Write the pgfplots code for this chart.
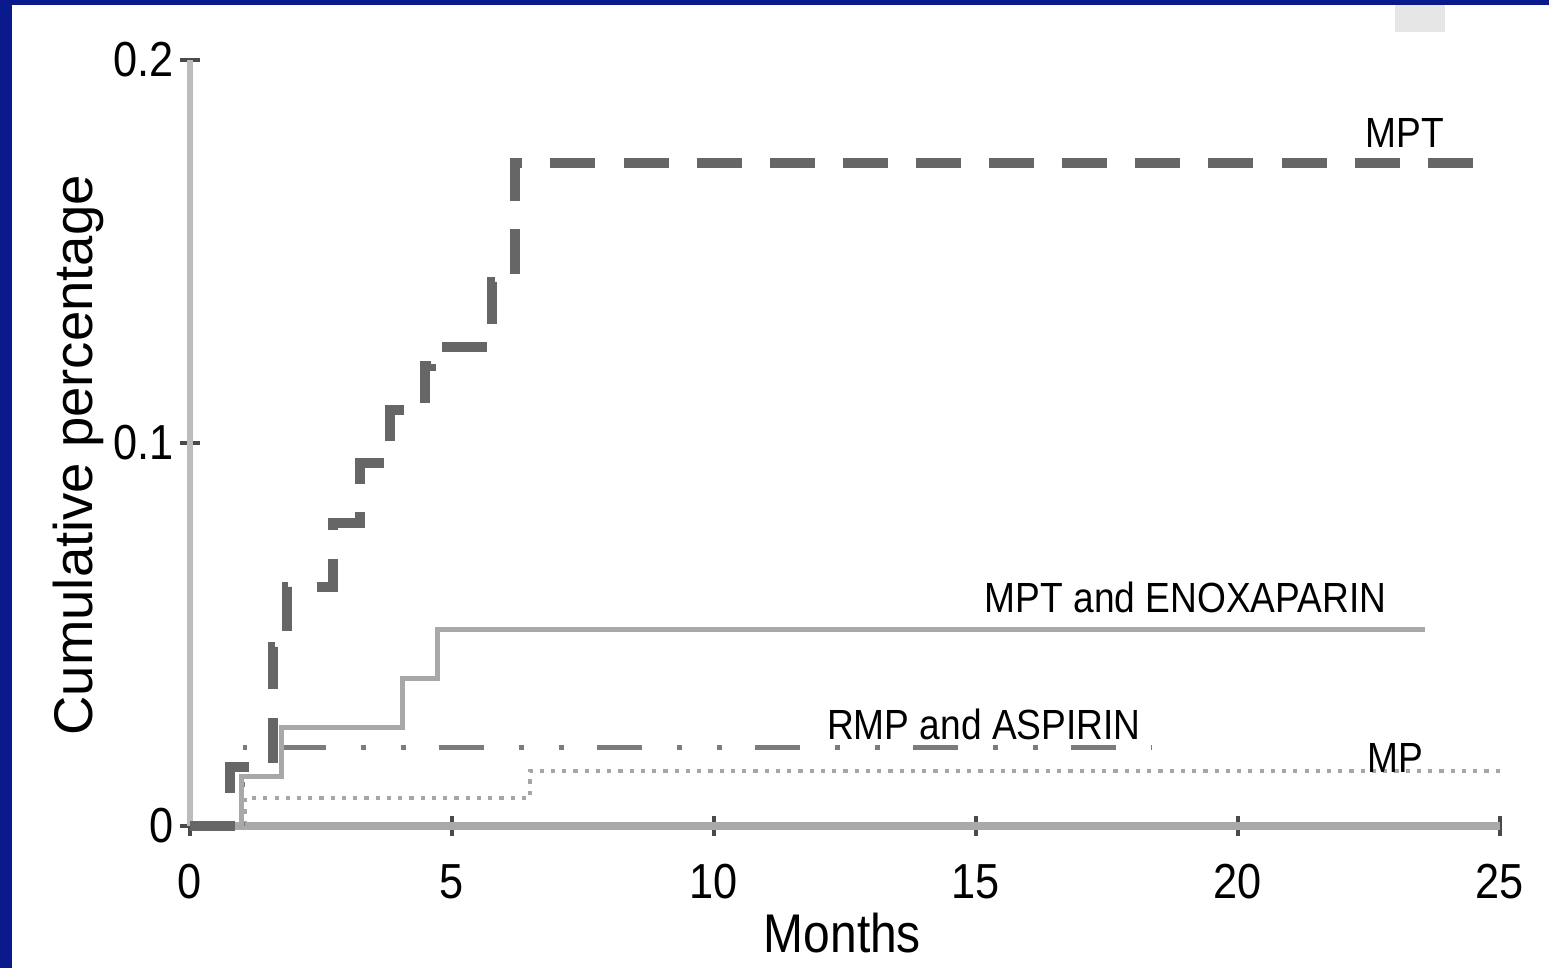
\documentclass[border=0pt]{standalone}
\usepackage{fontspec}
\setmainfont{Liberation Sans}[FakeStretch=0.88]
\newfontfamily\plainfont{Liberation Sans}
\usepackage{pgfplots}
\pgfplotsset{compat=1.18}

\definecolor{frameblue}{HTML}{0A1A8C}
\definecolor{boxgray}{HTML}{E6E6E6}
\definecolor{xaxgray}{HTML}{A9A9A9}
\definecolor{yaxgray}{HTML}{BCBCBC}
\definecolor{tickgray}{HTML}{4A4A4A}
\definecolor{mptgray}{HTML}{666666}
\definecolor{enoxgray}{HTML}{A8A8A8}
\definecolor{rmpgray}{HTML}{7C7C7C}
\definecolor{mpgray}{HTML}{A6A6A6}

\begin{document}
\begin{tikzpicture}
\useasboundingbox (0,0) rectangle (15.49cm,9.68cm);
\fill[white] (0,0) rectangle (15.49cm,9.68cm);
\fill[frameblue] (0,0) rectangle (0.115cm,9.68cm);
\fill[frameblue] (0,9.63cm) rectangle (15.49cm,9.68cm);
\fill[boxgray] (13.95cm,9.36cm) rectangle (14.45cm,9.63cm);
\begin{axis}[
  at={(1.90cm,1.42cm)}, anchor=south west,
  scale only axis, width=13.10cm, height=7.66cm,
  xmin=0, xmax=25, ymin=0, ymax=0.2,
  axis x line*=bottom, axis y line*=left,
  axis line style={-},
  x axis line style={draw=xaxgray, line width=2.4pt},
  y axis line style={draw=yaxgray, line width=1.6pt},
  xtick={0,5,10,15,20,25}, ytick={0,0.1,0.2},
  yticklabels={0,0.1,0.2},
  scaled y ticks=false,
  tick align=center, major tick length=0.2cm,
  tick style={draw=tickgray, line width=0.9pt},
  /pgf/number format/assume math mode=true,
  ticklabel style={font=\fontsize{14}{16}\selectfont, text=black},
  xticklabel style={yshift=-0.16cm},
  yticklabel style={xshift=0.06cm},
  xlabel={Months}, ylabel={Cumulative percentage},
  xlabel style={font=\fontsize{15.5}{17}\selectfont, inner sep=0pt, at={(axis description cs:0.498,-0.14)}, anchor=center},
  ylabel style={font=\plainfont\fontsize{15.5}{17}\selectfont, at={(axis description cs:-0.0855,0.484)}, anchor=center},
  clip=false,
]
% MP
\addplot[const plot, draw=mpgray, line width=1.1pt, line cap=butt, dash pattern=on 1.2pt off 2pt]
  coordinates {(0,0) (1.05,0.0073) (6.49,0.0144) (25,0.0144)};
% RMP and ASPIRIN
\addplot[const plot, draw=rmpgray, line width=1.4pt, line cap=butt,
  dash pattern=on 12.8pt off 10pt on 1.4pt off 10pt on 1.4pt off 9.4pt, dash phase=11.7pt]
  coordinates {(1.0,0) (1.0,0.0206) (18.36,0.0206)};
% MPT and ENOXAPARIN
\addplot[const plot, draw=enoxgray, line width=1.4pt]
  coordinates {(0,0) (0.99,0.0128) (1.74,0.0256) (4.05,0.0386) (4.73,0.0512) (23.57,0.0512)};
% MPT
\addplot[const plot, draw=mptgray, line width=2.85pt, line cap=butt, dash pattern=on 12.8pt off 8pt]
  coordinates {(0,0) (0.76,0.0154) (1.58,0.0467) (1.85,0.0624) (2.73,0.0791) (3.24,0.0948)
               (3.82,0.1086) (4.48,0.12) (4.6,0.1251) (5.76,0.142) (6.20,0.1731) (25,0.1731)};

\node[font=\fontsize{12}{13}\selectfont] at (axis cs:23.19,0.181) {MPT};
\node[font=\fontsize{12}{13}\selectfont] at (axis cs:19.0,0.0598) {MPT and ENOXAPARIN};
\node[font=\fontsize{12}{13}\selectfont] at (axis cs:15.15,0.0264) {RMP and ASPIRIN};
\node[font=\fontsize{12}{13}\selectfont] at (axis cs:23.0,0.0178) {MP};
\end{axis}
\end{tikzpicture}
\end{document}
